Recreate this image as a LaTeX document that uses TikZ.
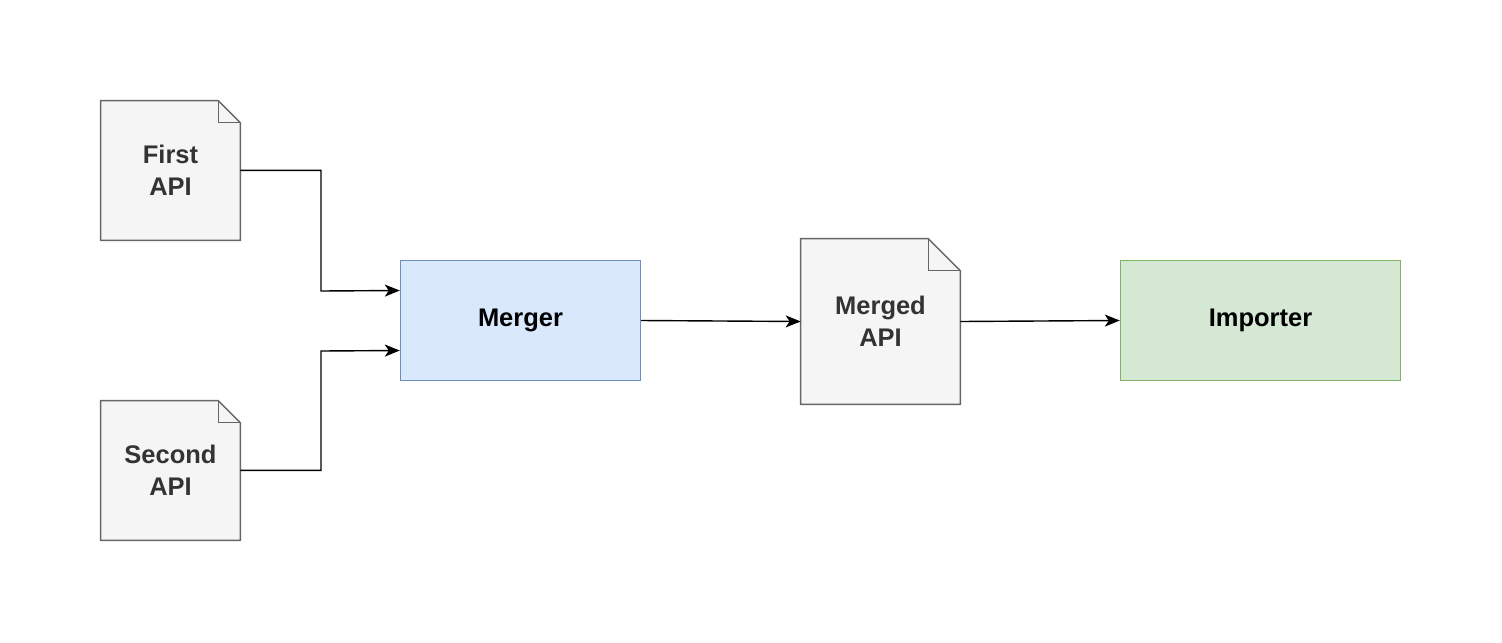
\documentclass[tikz,border=0pt]{standalone}
\usepackage{fontspec}
\setmainfont{Liberation Sans}
\usetikzlibrary{positioning,arrows.meta}
\definecolor{docfill}{HTML}{F5F5F5}
\definecolor{docline}{HTML}{666666}
\definecolor{txt}{HTML}{333333}
\definecolor{bluefill}{HTML}{DAE8FC}
\definecolor{blueline}{HTML}{6C8EBF}
\definecolor{greenfill}{HTML}{D5E8D4}
\definecolor{greenline}{HTML}{82B366}
\begin{document}
\begin{tikzpicture}[
    doc/.style={rectangle, draw=none, align=center, font=\fontsize{14.5}{18}\selectfont\bfseries, text=txt},
    outline/.style={draw=docline, line width=0.8pt},
    box/.style={rectangle, minimum width=4.8cm, minimum height=2.4cm, align=center, font=\fontsize{14.5}{18}\selectfont\bfseries, line width=0.8pt},
    arrow/.style={-{Stealth[length=0.3cm, width=0.24cm, inset=0.08cm]}, line width=0.8pt}
]
    \useasboundingbox (0,0) rectangle (30.04,-12.84);
    % Dokumente
    \node[doc, minimum width=2.78cm, minimum height=2.78cm] (first) at (3.41,-3.41) {};
    \node[doc, minimum width=2.78cm, minimum height=2.78cm] (second) at (3.41,-9.41) {};
    \node[doc, minimum width=3.18cm, minimum height=3.3cm] (merged) at (17.61,-6.43) {};
    \foreach \n/\s in {first/0.44, second/0.44, merged/0.64} {
        \draw[outline, fill=docfill] (\n.south west) -- (\n.north west) -- ([xshift=-\s cm]\n.north east) -- ([yshift=-\s cm]\n.north east) -- (\n.south east) -- cycle;
        \draw[outline] ([xshift=-\s cm]\n.north east) .. controls ([xshift=-\s cm, yshift=-0.5*\s cm]\n.north east) .. ([xshift=-\s cm, yshift=-\s cm]\n.north east) -- ([yshift=-\s cm]\n.north east);
    }
    \node[doc] at (first) {First\\API};
    \node[doc] at (second) {Second\\API};
    \node[doc] at (merged) {Merged\\API};

    % Verarbeitung
    \node[box, draw=blueline, fill=bluefill] (merger) at (10.41,-6.41) {Merger\vphantom{g}};
    \node[box, draw=greenline, fill=greenfill, minimum width=5.6cm] (importer) at (25.21,-6.41) {Importer};

    % Verbindungen
    \draw[arrow] ([yshift=1.4cm]first.south east) -| (6.42,-5.82) -- ([yshift=0.6cm]merger.west);
    \draw[arrow] ([yshift=1.4cm]second.south east) -| (6.42,-7.02) -- ([yshift=-0.6cm]merger.west);
    \draw[arrow] (merger.east) -- (merged.west);
    \draw[arrow] (merged.east) -- (importer.west);
\end{tikzpicture}
\end{document}
